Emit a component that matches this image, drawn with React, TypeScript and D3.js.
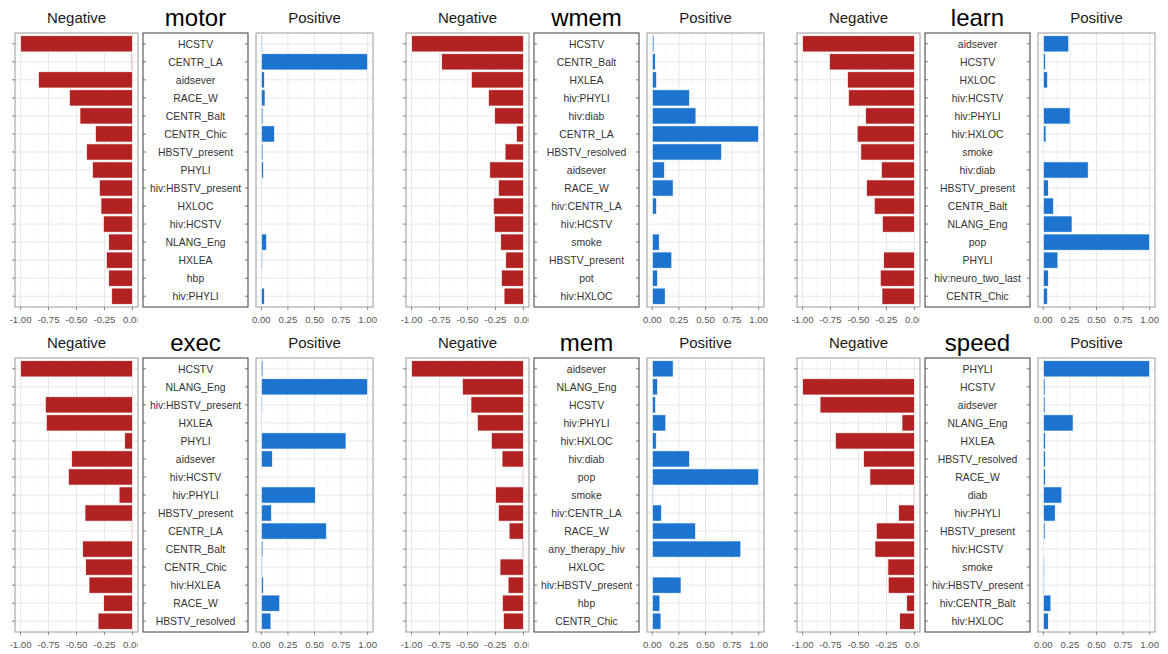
import React from 'react';
import * as d3 from 'd3';

// ---------- data ----------
const motorLabels = ["HCSTV", "CENTR_LA", "aidsever", "RACE_W", "CENTR_Balt", "CENTR_Chic", "HBSTV_present", "PHYLI", "hiv:HBSTV_present", "HXLOC", "hiv:HCSTV", "NLANG_Eng", "HXLEA", "hbp", "hiv:PHYLI"];
const motorNeg = [-1.0, -0.01, -0.84, -0.564, -0.469, -0.331, -0.409, -0.358, -0.296, -0.281, -0.26, -0.212, -0.233, -0.212, -0.185];
const motorPos = [0.01, 1.0, 0.03, 0.035, 0.015, 0.124, 0.015, 0.02, 0, 0, 0, 0.05, 0.012, 0, 0.03];

const wmemLabels = ["HCSTV", "CENTR_Balt", "HXLEA", "hiv:PHYLI", "hiv:diab", "CENTR_LA", "HBSTV_resolved", "aidsever", "RACE_W", "hiv:CENTR_LA", "hiv:HCSTV", "smoke", "HBSTV_present", "pot", "hiv:HXLOC"];
const wmemNeg = [-1.0, -0.731, -0.466, -0.313, -0.257, -0.063, -0.164, -0.301, -0.224, -0.269, -0.26, -0.203, -0.158, -0.197, -0.173];
const wmemPos = [0.015, 0.028, 0.04, 0.351, 0.41, 1.0, 0.652, 0.115, 0.196, 0.04, 0.005, 0.065, 0.183, 0.05, 0.121];

const learnLabels = ["aidsever", "HCSTV", "HXLOC", "hiv:HCSTV", "hiv:PHYLI", "hiv:HXLOC", "smoke", "hiv:diab", "HBSTV_present", "CENTR_Balt", "NLANG_Eng", "pop", "PHYLI", "hiv:neuro_two_last", "CENTR_Chic"];
const learnNeg = [-1.0, -0.76, -0.599, -0.59, -0.437, -0.512, -0.479, -0.296, -0.428, -0.359, -0.287, 0, -0.275, -0.305, -0.29];
const learnPos = [0.239, 0.019, 0.04, 0, 0.252, 0.025, 0, 0.422, 0.047, 0.096, 0.27, 1.0, 0.137, 0.047, 0.04];

const execLabels = ["HCSTV", "NLANG_Eng", "hiv:HBSTV_present", "HXLEA", "PHYLI", "aidsever", "hiv:HCSTV", "hiv:PHYLI", "HBSTV_present", "CENTR_LA", "CENTR_Balt", "CENTR_Chic", "hiv:HXLEA", "RACE_W", "HBSTV_resolved"];
const execNeg = [-1.0, 0, -0.779, -0.77, -0.069, -0.543, -0.573, -0.119, -0.424, -0.006, -0.445, -0.418, -0.388, -0.257, -0.307];
const execPos = [0.015, 1.0, 0.01, 0, 0.796, 0.105, 0.006, 0.508, 0.096, 0.613, 0.015, 0.009, 0.019, 0.173, 0.09];

const memLabels = ["aidsever", "NLANG_Eng", "HCSTV", "hiv:PHYLI", "hiv:HXLOC", "hiv:diab", "pop", "smoke", "hiv:CENTR_LA", "RACE_W", "any_therapy_hiv", "HXLOC", "hiv:HBSTV_present", "hbp", "CENTR_Chic"];
const memNeg = [-1.0, -0.546, -0.469, -0.412, -0.287, -0.191, -0.006, -0.248, -0.224, -0.128, -0.009, -0.209, -0.137, -0.188, -0.179];
const memPos = [0.196, 0.05, 0.031, 0.127, 0.037, 0.351, 1.0, 0.009, 0.087, 0.407, 0.832, 0.006, 0.27, 0.071, 0.081];

const speedLabels = ["PHYLI", "HCSTV", "aidsever", "NLANG_Eng", "HXLEA", "HBSTV_resolved", "RACE_W", "diab", "hiv:PHYLI", "HBSTV_present", "hiv:HCSTV", "smoke", "hiv:HBSTV_present", "hiv:CENTR_Balt", "hiv:HXLOC"];
const speedNeg = [0, -1.0, -0.844, -0.111, -0.707, -0.455, -0.398, -0.006, -0.141, -0.341, -0.353, -0.237, -0.234, -0.069, -0.132];
const speedPos = [1.0, 0.016, 0.016, 0.28, 0.019, 0.019, 0.019, 0.174, 0.112, 0.016, 0, 0.012, 0.009, 0.071, 0.047];

const negTicks = [-1, -0.75, -0.5, -0.25, 0];
const negTickLabels = ["-1.00", "-0.75", "-0.50", "-0.25", "0.00"];
const negMinor = [-0.875, -0.625, -0.375, -0.125];
const posTicks = [0, 0.25, 0.5, 0.75, 1];
const posTickLabels = ["0.00", "0.25", "0.50", "0.75", "1.00"];
const posMinor = [0.125, 0.375, 0.625, 0.875];

const panels = [
  { title: "motor", labels: motorLabels, neg: motorNeg, pos: motorPos },
  { title: "wmem", labels: wmemLabels, neg: wmemNeg, pos: wmemPos },
  { title: "learn", labels: learnLabels, neg: learnNeg, pos: learnPos },
  { title: "exec", labels: execLabels, neg: execNeg, pos: execPos },
  { title: "mem", labels: memLabels, neg: memNeg, pos: memPos },
  { title: "speed", labels: speedLabels, neg: speedNeg, pos: speedPos },
];

// ---------- layout ----------
const W = 1168, H = 654;
const colOffsets = [0, 391, 782];
const rowOffsets = [0, 325];
const TOP = 33, BOTTOM = 307;
const NEG_L = 15, NEG_R = 138;
const LAB_L = 143, LAB_R = 248;
const POS_L = 256, POS_R = 373;
const RED = "#B22222";
const BLUE = "#1C74D0";
const GRID = "#E6E6E6";
const GRID_MINOR = "#F1F1F1";
const PANEL_BORDER = "#9A9A9A";
const FONT = "'Liberation Sans', Arial, Helvetica, sans-serif";
const AXIS_TEXT = "#555555";

function Panel({ p, dx, dy, idx }: any) {
  const y = d3.scalePoint<string>().domain(p.labels).range([TOP, BOTTOM]).padding(0.6);
  const step = y.step();
  const bh = step * 0.9;
  const xn = d3.scaleLinear().domain([-1.05, 0.05]).range([NEG_L, NEG_R]);
  const xp = d3.scaleLinear().domain([-0.05, 1.05]).range([POS_L, POS_R]);
  const clipId = `negclip${idx}`;
  return (
    <g transform={`translate(${dx},${dy})`}>
      <defs>
        <clipPath id={clipId}>
          <rect x={0} y={0} width={NEG_R - 0.5} height={H} />
        </clipPath>
      </defs>
      {/* titles */}
      <text x={(NEG_L + NEG_R) / 2} y={22.5} textAnchor="middle" fontSize={15} fontFamily={FONT} fill="#1a1a1a">Negative</text>
      <text x={(LAB_L + LAB_R) / 2} y={25.5} textAnchor="middle" fontSize={24} fontFamily={FONT} fill="#000">{p.title}</text>
      <text x={(POS_L + POS_R) / 2} y={22.5} textAnchor="middle" fontSize={15} fontFamily={FONT} fill="#1a1a1a">Positive</text>

      {/* negative panel */}
      <rect x={NEG_L} y={TOP} width={NEG_R - NEG_L} height={BOTTOM - TOP} fill="#fff" />
      {negMinor.map((t) => (
        <line key={"nm" + t} x1={xn(t)} x2={xn(t)} y1={TOP} y2={BOTTOM} stroke={GRID_MINOR} strokeWidth={0.6} />
      ))}
      {negTicks.map((t) => (
        <line key={"ng" + t} x1={xn(t)} x2={xn(t)} y1={TOP} y2={BOTTOM} stroke={GRID} strokeWidth={1} />
      ))}
      {p.labels.map((l: string) => (
        <line key={"nh" + l} x1={NEG_L} x2={NEG_R} y1={y(l)} y2={y(l)} stroke={GRID} strokeWidth={1} />
      ))}
      {p.neg.map((v: number, i: number) =>
        v === 0 ? null : (
          <rect key={"nb" + i} x={xn(v)} y={(y(p.labels[i]) as number) - bh / 2} width={xn(0) - xn(v)} height={bh}
            fill={RED} stroke="#fff" strokeWidth={0.7} />
        )
      )}
      <rect x={NEG_L} y={TOP} width={NEG_R - NEG_L} height={BOTTOM - TOP} fill="none" stroke={PANEL_BORDER} strokeWidth={1} />
      {p.labels.map((l: string) => (
        <line key={"nt" + l} x1={NEG_L - 3} x2={NEG_L} y1={y(l)} y2={y(l)} stroke="#666" strokeWidth={0.8} />
      ))}
      {negTicks.map((t) => (
        <line key={"nx" + t} x1={xn(t)} x2={xn(t)} y1={BOTTOM} y2={BOTTOM + 3} stroke="#666" strokeWidth={0.8} />
      ))}
      <g clipPath={`url(#${clipId})`}>
        {negTicks.map((t, i) => (
          <text key={"nl" + t} x={xn(t)} y={BOTTOM + 15.5} textAnchor="middle" fontSize={9.6} fontFamily={FONT} fill={AXIS_TEXT}>{negTickLabels[i]}</text>
        ))}
      </g>

      {/* label panel */}
      <rect x={LAB_L} y={TOP} width={LAB_R - LAB_L} height={BOTTOM - TOP} fill="#fff" stroke="#3a3a3a" strokeWidth={1} />
      {p.labels.map((l: string) => (
        <g key={"lb" + l}>
          <line x1={LAB_L} x2={LAB_L + 3} y1={y(l)} y2={y(l)} stroke="#555" strokeWidth={0.8} />
          <line x1={LAB_R - 3} x2={LAB_R} y1={y(l)} y2={y(l)} stroke="#555" strokeWidth={0.8} />
          <text x={(LAB_L + LAB_R) / 2} y={y(l)} dy="0.36em" textAnchor="middle" fontSize={10.4} fontFamily={FONT} fill="#333">{l}</text>
        </g>
      ))}

      {/* positive panel */}
      <rect x={POS_L} y={TOP} width={POS_R - POS_L} height={BOTTOM - TOP} fill="#fff" />
      {posMinor.map((t) => (
        <line key={"pm" + t} x1={xp(t)} x2={xp(t)} y1={TOP} y2={BOTTOM} stroke={GRID_MINOR} strokeWidth={0.6} />
      ))}
      {posTicks.map((t) => (
        <line key={"pg" + t} x1={xp(t)} x2={xp(t)} y1={TOP} y2={BOTTOM} stroke={GRID} strokeWidth={1} />
      ))}
      {p.labels.map((l: string) => (
        <line key={"ph" + l} x1={POS_L} x2={POS_R} y1={y(l)} y2={y(l)} stroke={GRID} strokeWidth={1} />
      ))}
      {p.pos.map((v: number, i: number) =>
        v === 0 ? null : (
          <rect key={"pb" + i} x={xp(0)} y={(y(p.labels[i]) as number) - bh / 2} width={xp(v) - xp(0)} height={bh}
            fill={BLUE} stroke="#fff" strokeWidth={0.7} />
        )
      )}
      <rect x={POS_L} y={TOP} width={POS_R - POS_L} height={BOTTOM - TOP} fill="none" stroke={PANEL_BORDER} strokeWidth={1} />
      {posTicks.map((t) => (
        <line key={"px" + t} x1={xp(t)} x2={xp(t)} y1={BOTTOM} y2={BOTTOM + 3} stroke="#666" strokeWidth={0.8} />
      ))}
      {posTicks.map((t, i) => (
        <text key={"pl" + t} x={xp(t)} y={BOTTOM + 15.5} textAnchor="middle" fontSize={9.6} fontFamily={FONT} fill={AXIS_TEXT}>{posTickLabels[i]}</text>
      ))}
    </g>
  );
}

export default function App() {
  return (
    <svg width={W} height={H} style={{ position: 'absolute', left: 0, top: 0, background: '#fff' }}>
      <rect x={0} y={0} width={W} height={H} fill="#fff" />
      {panels.map((p, i) => (
        <Panel key={p.title} p={p} idx={i} dx={colOffsets[i % 3]} dy={rowOffsets[Math.floor(i / 3)]} />
      ))}
    </svg>
  );
}
